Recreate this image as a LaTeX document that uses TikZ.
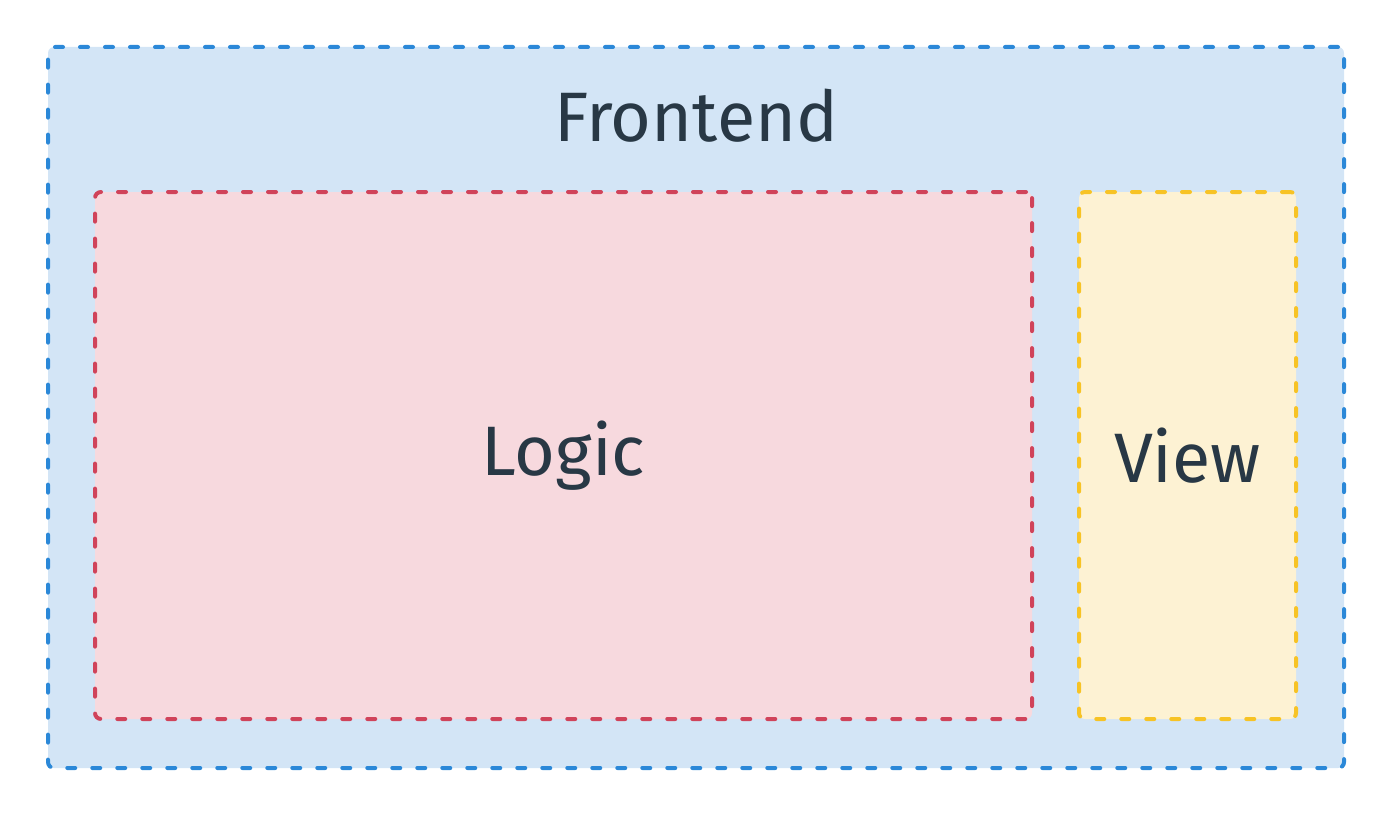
\documentclass[tikz,border=0pt]{standalone}
\usepackage{fontspec}
\setmainfont{Fira Sans}
\usetikzlibrary{positioning}

\definecolor{feline}{HTML}{2B88D8}
\definecolor{fefill}{HTML}{D3E5F6}
\definecolor{logline}{HTML}{D0435A}
\definecolor{logfill}{HTML}{F7D9DE}
\definecolor{viewline}{HTML}{F7C325}
\definecolor{viewfill}{HTML}{FDF2D3}
\definecolor{labtext}{HTML}{283845}

\begin{document}
\begin{tikzpicture}[x=1pt, y=-1pt,
  area/.style={rectangle, rounded corners=6pt, line width=4pt, line cap=round,
    dash pattern=on 8pt off 17pt, inner sep=0pt, text=labtext,
    font=\fontsize{70}{84}\selectfont},
  title/.style={text=labtext, inner sep=0pt, font=\fontsize{70}{84}\selectfont}
]
  \useasboundingbox (0,0) rectangle (1392,816);

  \node[area, draw=feline, fill=fefill, minimum width=1296pt, minimum height=721pt] (frontend) at (696,407.5) {};
  \node[title, anchor=base] (fetitle) at ([yshift=-96pt]frontend.north) {Frontend};

  \node[area, draw=logline, fill=logfill, minimum width=937pt, minimum height=527pt] (logic) at (563.5,455.5) {Logic};
  \node[area, draw=viewline, fill=viewfill, minimum width=217pt, minimum height=527pt] (view) at (1187.5,455.5) {View};
\end{tikzpicture}
\end{document}
